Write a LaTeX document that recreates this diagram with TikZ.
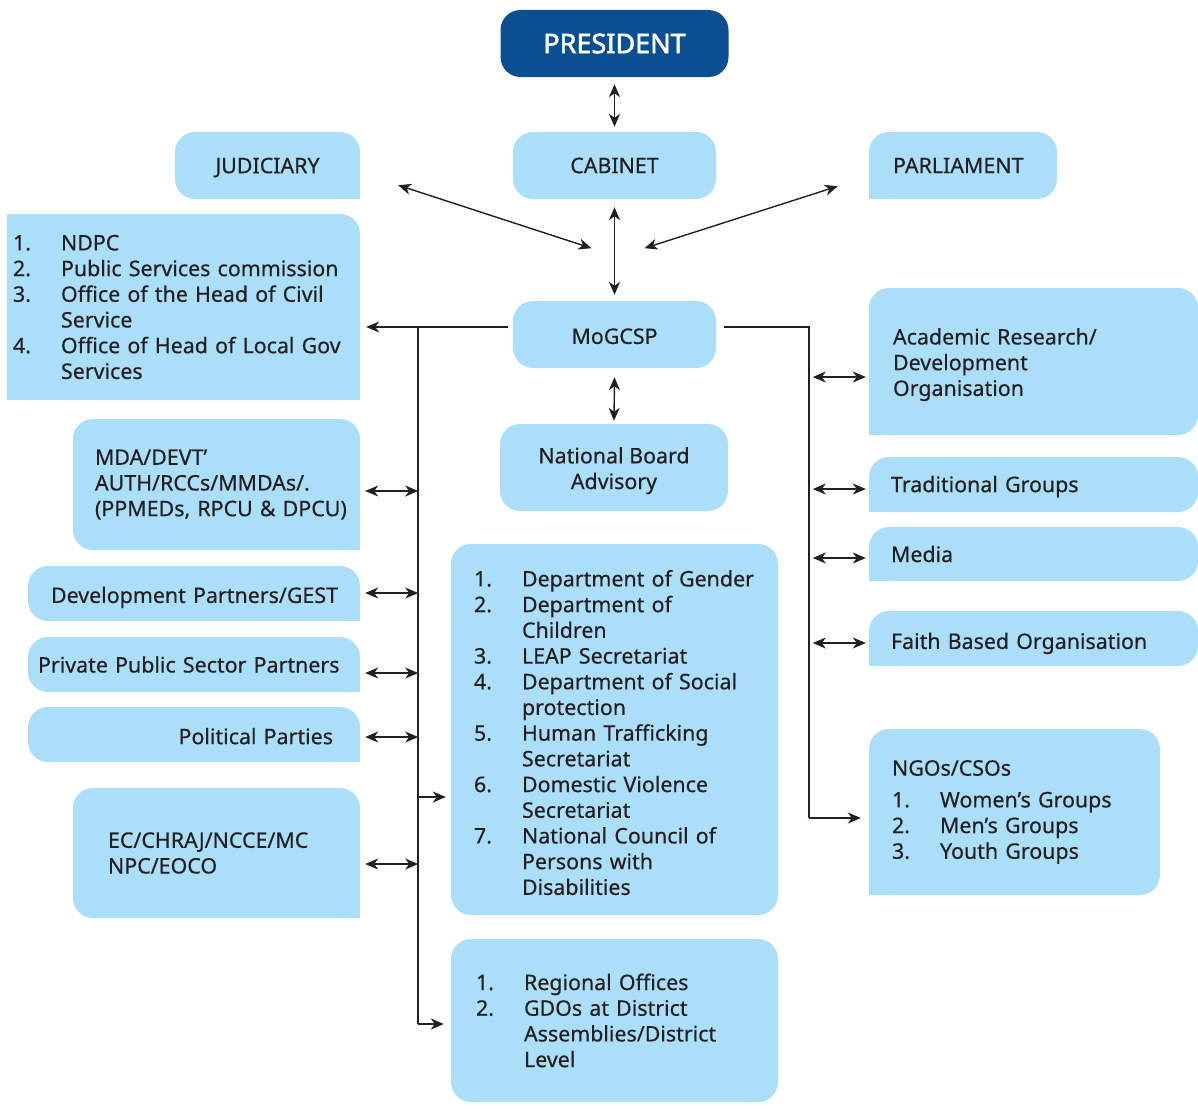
\documentclass[tikz,border=0pt]{standalone}
\usepackage{fontspec}
\setmainfont{Noto Sans}[FakeBold=0.4]
\newfontfamily\presfont{Noto Sans}[FakeBold=2]
\usetikzlibrary{arrows.meta,calc}
\definecolor{lb}{RGB}{170,222,249}
\definecolor{db}{RGB}{11,79,146}
\definecolor{ink}{RGB}{35,31,32}
\newcommand{\numi}[2]{\makebox[48pt][l]{#1}\mbox{#2}}
\newcommand{\cont}[1]{\hspace*{48pt}\mbox{#1}}
\newcommand{\lift}[1]{\rule{0pt}{#1}}
\tikzset{
  ybox/.style={rectangle, rounded corners=20pt, fill=lb, text=ink, inner sep=0pt,
    font=\fontsize{21.4}{25.7}\selectfont},
  conn/.style={line width=1.4pt, draw=ink},
  arr/.style={-{Stealth[length=13pt,width=11pt,inset=4pt]}},
  dbl/.style={{Stealth[length=13pt,width=11pt,inset=4pt]}-{Stealth[length=13pt,width=11pt,inset=4pt]}},
}
\begin{document}
\begin{tikzpicture}[x=1pt,y=-1pt]
\useasboundingbox (0,0) rectangle (1198,1108);

% top row
\node[ybox, fill=db, text=white, minimum width=228pt, minimum height=67pt,
  font=\presfont\fontsize{27}{30}\selectfont] (pres) at (614.5,43.5) {PRESIDENT};
\node[ybox, minimum width=203pt, minimum height=67pt] (cab) at (614.5,165.5) {CABINET};
\node[ybox, minimum width=185pt, minimum height=67pt, text depth=0pt] (jud) at (267.5,165.5) {JUDICIARY};
\node[ybox, minimum width=188pt, minimum height=67pt, text width=140pt, inner xsep=24pt, align=left] (parl) at (963,165.5) {\mbox{PARLIAMENT}};

% centre column
\node[ybox, minimum width=203pt, minimum height=67pt] (mog) at (614.5,334.5) {\lift{19pt}MoGCSP};
\node[ybox, minimum width=228pt, minimum height=87pt, align=center] (nba) at (614,467.5) {\lift{22.5pt}National Board\\Advisory};
\node[ybox, minimum width=327pt, minimum height=371pt, text width=281pt, inner xsep=23pt, align=left] (dept) at (614.5,729.5) {%
\lift{22.5pt}\numi{1.}{Department of Gender}\\
\numi{2.}{Department of}\\
\cont{Children}\\
\numi{3.}{LEAP Secretariat}\\
\numi{4.}{Department of Social}\\
\cont{protection}\\
\numi{5.}{Human Trafficking}\\
\cont{Secretariat}\\
\numi{6.}{Domestic Violence}\\
\cont{Secretariat}\\
\numi{7.}{National Council of}\\
\cont{Persons with}\\
\cont{Disabilities}};
\node[ybox, minimum width=327pt, minimum height=163pt, text width=277pt, inner xsep=25pt, align=left] (reg) at (614.5,1020.5) {%
\numi{1.}{Regional Offices}\\
\numi{2.}{GDOs at District}\\
\cont{Assemblies/District}\\
\cont{Level}};

% left column
\node[ybox, minimum width=353pt, minimum height=186pt, text width=341pt, inner xsep=6pt, align=left] (ndpc) at (183.5,307) {%
\numi{1.}{NDPC}\\
\numi{2.}{Public Services commission}\\
\numi{3.}{Office of the Head of Civil}\\
\cont{Service}\\
\numi{4.}{Office of Head of Local Gov}\\
\cont{Services}};
\node[ybox, minimum width=287pt, minimum height=131pt, text width=243pt, inner xsep=22pt, align=left] (mda) at (216.5,484.5) {%
\mbox{MDA/DEVT’}\\\mbox{AUTH/RCCs/MMDAs/.}\\\mbox{(PPMEDs, RPCU \& DPCU)}};
\node[ybox, minimum width=332pt, minimum height=55pt, text width=288pt, inner xsep=22pt, align=right] (dev) at (194,593.5) {\lift{24pt}\mbox{Development Partners/GEST}};
\node[ybox, minimum width=332pt, minimum height=55pt, text width=312pt, inner xsep=10pt, align=right] (ppp) at (194,664.5) {\mbox{Private Public Sector Partners}\hspace*{12pt}};
\node[ybox, minimum width=332pt, minimum height=55pt, text width=278pt, inner xsep=27pt, align=right] (pol) at (194,734.5) {\lift{19.5pt}\mbox{Political Parties}};
\node[ybox, minimum width=287pt, minimum height=130pt, text width=217pt, inner xsep=35pt, align=left] (ec) at (216.5,853) {%
EC/CHRAJ/NCCE/MC\\NPC/EOCO};

% right column
\node[ybox, minimum width=329pt, minimum height=147pt, text width=281pt, inner xsep=24pt, align=left] (acad) at (1033.5,361.5) {%
\lift{22.5pt}Academic Research/\\Development\\Organisation};
\node[ybox, minimum width=329pt, minimum height=55pt, text width=285pt, inner xsep=22pt, align=left] (trad) at (1033.5,484.5) {\lift{20.3pt}Traditional Groups};
\node[ybox, minimum width=329pt, minimum height=54pt, text width=285pt, inner xsep=22pt, align=left] (media) at (1033.5,554) {Media};
\node[ybox, minimum width=329pt, minimum height=55pt, text width=285pt, inner xsep=22pt, align=left] (faith) at (1033.5,638.5) {\lift{26pt}\mbox{Faith Based Organisation}};
\node[ybox, minimum width=291pt, minimum height=166pt, text width=245pt, inner xsep=23pt, align=left] (ngo) at (1014.5,812) {%
NGOs/CSOs\\[6pt]
\numi{1.}{Women’s Groups}\\
\numi{2.}{Men’s Groups}\\
\numi{3.}{Youth Groups}};

% square corners
\foreach \n in {jud,mda,dev,ppp,pol,ec,ndpc}
  \fill[lb] (\n.south east) rectangle ++(-20pt,20pt);
\foreach \n in {parl,acad,trad,media,faith,ngo,ndpc}
  \fill[lb] (\n.south west) rectangle ++(20pt,20pt);
\fill[lb] (ndpc.north west) rectangle ++(20pt,-20pt);

% bus coordinates
\coordinate (lbusT) at (418,327);
\coordinate (lbusB) at (418,1024);
\coordinate (ldept) at (418,797);
\coordinate (rbusT) at (809,327);
\coordinate (rbusB) at (809,818);

% vertical spine
\draw[conn,dbl] ($(pres.south)+(0,7)$) -- ($(cab.north)+(0,-5)$);
\draw[conn,dbl] ($(cab.south)+(0,8)$) -- ($(mog.north)+(0,-6)$);
\draw[conn,dbl] ($(mog.south)+(0,9)$) -- ($(nba.north)+(0,-3)$);
\draw[conn,dbl] ($(jud.south east)+(38,-14)$) -- ($(cab.south)+(-23,49)$);
\draw[conn,dbl] ($(parl.south west)+(-31,-13)$) -- ($(cab.south)+(30,49)$);

% left bus
\draw[conn,arr] ($(mog.west |- lbusT)+(-5,0)$) -- ($(ndpc.east |- lbusT)+(6,0)$);
\draw[conn] (lbusT) -- (lbusB);
\draw[conn,arr] (lbusB) -- ($(reg.west |- lbusB)+(-7,0)$);
\draw[conn,arr] (ldept) -- ($(dept.west |- ldept)+(-5,0)$);
\draw[conn,dbl] ($(mda.east)+(5,6.5)$) -- ++(53,0);
\draw[conn,dbl] ($(dev.east)+(5,-0.5)$) -- ++(53,0);
\draw[conn,dbl] ($(ppp.east)+(5,8.5)$) -- ++(53,0);
\draw[conn,dbl] ($(pol.east)+(5,2.5)$) -- ++(53,0);
\draw[conn,dbl] ($(ec.east)+(5,11)$) -- ++(53,0);

% right bus
\draw[conn] ($(mog.east |- rbusT)+(8,0)$) -- (rbusT) -- (rbusB);
\draw[conn,arr] (rbusB) -- ($(ngo.west |- rbusB)+(-8,0)$);
\draw[conn,dbl] ($(acad.west)+(-3,15.5)$) -- ++(-53,0);
\draw[conn,dbl] ($(trad.west)+(-3,4.5)$) -- ++(-53,0);
\draw[conn,dbl] ($(media.west)+(-3,4)$) -- ++(-53,0);
\draw[conn,dbl] ($(faith.west)+(-3,4.5)$) -- ++(-53,0);
\end{tikzpicture}
\end{document}
